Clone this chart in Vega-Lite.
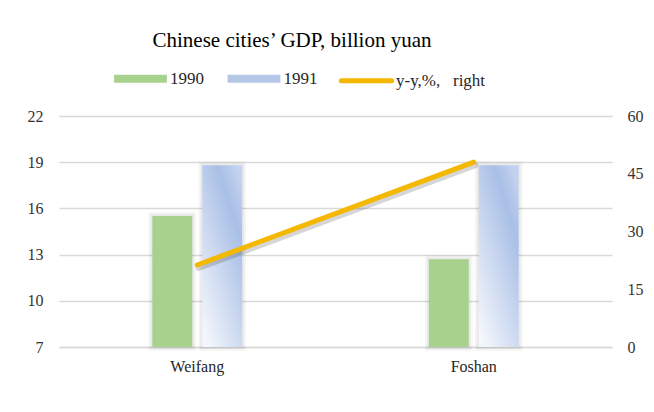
{
  "$schema": "https://vega.github.io/schema/vega-lite/v6.json",
  "width": 553,
  "height": 231,
  "autosize": {"type": "none"},
  "padding": {"left": 59, "top": 116, "right": 42, "bottom": 65},
  "background": "white",
  "datasets": {
    "bars": [
      {"city": "Weifang", "year": "1990", "gdp": 15.5},
      {"city": "Weifang", "year": "1991", "gdp": 18.8},
      {"city": "Foshan", "year": "1990", "gdp": 12.7},
      {"city": "Foshan", "year": "1991", "gdp": 18.8}
    ],
    "growth": [
      {"city": "Weifang", "yy": 21.3},
      {"city": "Foshan", "yy": 48}
    ]
  },
  "title": {
    "text": "Chinese cities’ GDP, billion yuan",
    "font": "Liberation Serif",
    "fontSize": 21,
    "fontWeight": "normal",
    "color": "#000000",
    "anchor": "middle",
    "frame": "group",
    "dx": -43.5,
    "offset": 2,
    "baseline": "alphabetic"
  },
  "config": {
    "view": {"stroke": null},
    "axis": {"labelFont": "Liberation Serif", "labelFontSize": 16, "labelColor": "#333333"}
  },
  "resolve": {"scale": {"y": "independent"}},
  "layer": [
    {
      "data": {"name": "bars"},
      "encoding": {
        "x": {
          "field": "city", "type": "nominal", "sort": ["Weifang", "Foshan"],
          "scale": {"domain": ["Weifang", "Foshan"], "paddingInner": 0.675, "paddingOuter": 0.3375},
          "axis": {"title": null, "labelAngle": 0, "domain": true, "domainColor": "#d9d9d9", "domainWidth": 1.5, "ticks": false, "tickSize": 0, "labelPadding": 11, "labelFont": "Liberation Serif", "labelFontSize": 16, "labelColor": "#262626"}
        },
        "xOffset": {"field": "year", "type": "nominal", "scale": {"domain": ["1990", "1991"], "paddingInner": 0.2, "paddingOuter": 0}},
        "y": {
          "field": "gdp", "type": "quantitative",
          "scale": {"domain": [7, 22], "nice": false, "zero": false},
          "axis": {"title": null, "values": [7, 10, 13, 16, 19, 22], "grid": true, "gridColor": "#d9d9d9", "gridWidth": 1.5, "domain": false, "ticks": false, "tickSize": 0, "labelPadding": 16, "labelFont": "Liberation Serif", "labelFontSize": 16, "labelColor": "#333333"}
        },
        "y2": {"datum": 7}
      },
      "layer": [
        {"mark": {"type": "bar", "fill": "#000000", "fillOpacity": 0, "stroke": "#000000", "strokeOpacity": 0.035, "strokeWidth": 8}},
        {"mark": {"type": "bar", "fill": "#000000", "fillOpacity": 0, "stroke": "#000000", "strokeOpacity": 0.05, "strokeWidth": 4}},
        {
          "transform": [{"filter": "datum.year === '1990'"}],
          "mark": {"type": "bar"},
          "encoding": {
            "color": {
              "field": "year", "type": "nominal",
              "scale": {"domain": ["1990", "1991", "y-y,%,\u00a0\u00a0\u00a0right"], "range": ["#A9D18E", "#B4C7E7", "#F4B800"]},
              "legend": {
                "orient": "none", "legendX": 73, "legendY": -46, "direction": "horizontal",
                "title": null, "padding": 0,
                "labelFont": "Liberation Serif", "labelFontSize": 17, "labelColor": "#262626",
                "labelOffset": 21, "columnPadding": 13.5, "symbolSize": 64,
                "encoding": {
                  "symbols": {
                    "shape": {"value": {"expr": "datum.value === '1990' || datum.value === '1991' ? 'M-6.6,-1H6.6V1H-6.6Z' : 'M-6.3,0H6.3'"}},
                    "fill": {"value": {"expr": "datum.value === '1990' ? '#A9D18E' : datum.value === '1991' ? {gradient: 'linear', x1: 0, y1: 0, x2: 1, y2: 0, stops: [{offset: 0, color: '#f1f4fb'}, {offset: 1, color: '#abc0e6'}]} : 'transparent'"}},
                    "stroke": {"value": {"expr": "datum.value === '1990' || datum.value === '1991' ? 'transparent' : '#F4B800'"}},
                    "strokeWidth": {"value": 5},
                    "strokeCap": {"value": "round"},
                    "opacity": {"value": 1}
                  }
                }
              }
            }
          }
        },
        {
          "transform": [{"filter": "datum.year === '1991'"}],
          "mark": {
            "type": "bar",
            "fill": {"gradient": "linear", "x1": 0.85, "y1": 0, "x2": 0.15, "y2": 1, "stops": [
              {"offset": 0, "color": "#c3d2ee"},
              {"offset": 0.22, "color": "#a9bfe6"},
              {"offset": 1, "color": "#f3f6fc"}
            ]}
          }
        }
      ]
    },
    {
      "data": {"name": "growth"},
      "encoding": {
        "x": {"field": "city", "type": "nominal", "sort": ["Weifang", "Foshan"], "scale": {"domain": ["Weifang", "Foshan"]}},
        "y": {
          "field": "yy", "type": "quantitative",
          "scale": {"domain": [0, 60], "nice": false},
          "axis": {"orient": "right", "title": null, "values": [0, 15, 30, 45, 60], "grid": false, "domain": false, "ticks": false, "tickSize": 0, "labelPadding": 15, "labelFont": "Liberation Serif", "labelFontSize": 16, "labelColor": "#333333"}
        }
      },
      "layer": [
        {"mark": {"type": "line", "color": "#000000", "opacity": 0.16, "strokeWidth": 6, "strokeCap": "round", "xOffset": 1.5, "yOffset": 3}},
        {"mark": {"type": "line", "color": "#F4B800", "strokeWidth": 5, "strokeCap": "round"}}
      ]
    }
  ]
}
